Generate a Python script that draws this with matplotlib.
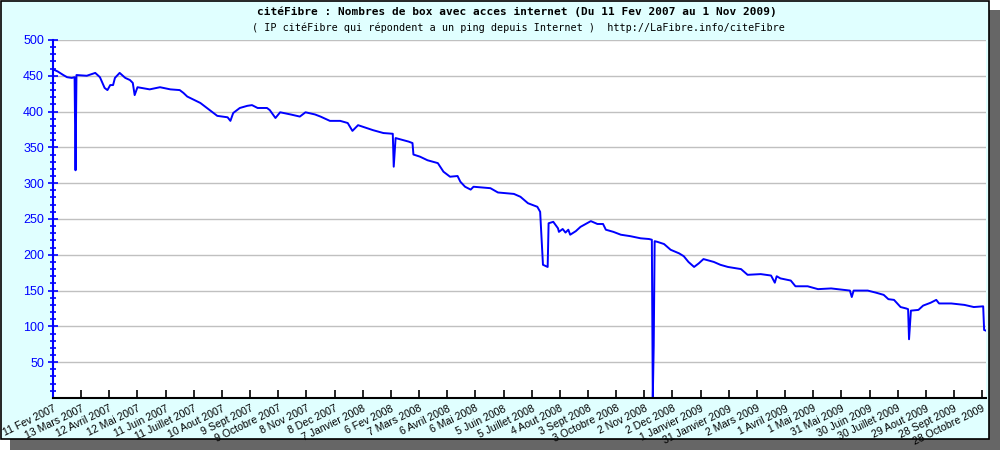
#Importing libraries
import matplotlib
matplotlib.use("Agg")
import matplotlib.pyplot as plt
from matplotlib.patches import Rectangle
import numpy as np

#Days since 11 Fev 2007 and number of box answering the ping
jours = [0, 5, 11, 15, 20, 23, 24, 25, 36, 45, 50, 55, 58, 61, 64, 66, 71, 77, 82, 85,
         87, 90, 103, 114, 125, 135, 139, 143, 157, 164, 167, 175, 186, 189, 192, 199,
         207, 212, 218, 228, 231, 237, 242, 253, 263, 269, 279, 285, 295, 306, 314, 319,
         325, 341, 352, 362, 363, 365, 379, 383, 384, 391, 399, 410, 416, 423, 431, 434,
         439, 445, 448, 466, 474, 491, 498, 506, 516, 519, 522, 527, 528, 533, 538, 539,
         543, 546, 549, 551, 557, 562, 573, 580, 586, 589, 597, 605, 615, 626, 635, 638,
         639, 640, 641, 644, 651, 658, 667, 672, 677, 683, 688, 693, 704, 711, 719, 733,
         740, 754, 765, 769, 771, 775, 786, 791, 804, 815, 829, 849, 851, 853, 868, 877,
         885, 890, 896, 903, 909, 911, 912, 914, 922, 927, 935, 941, 944, 957, 971, 981,
         991, 992, 994]
nb_box = [459, 456, 451, 448, 447, 448, 318, 451, 450, 454, 448, 433, 430, 437, 437, 447,
          454, 447, 444, 440, 423, 434, 431, 434, 431, 430, 426, 421, 412, 405, 402, 394,
          392, 387, 398, 405, 408, 409, 405, 405, 402, 391, 399, 396, 393, 399, 396, 393,
          387, 387, 384, 373, 381, 374, 370, 369, 323, 363, 358, 356, 340, 337, 332, 328,
          316, 309, 310, 302, 295, 291, 295, 293, 287, 285, 281, 272, 267, 260, 186, 183,
          244, 246, 237, 232, 236, 231, 235, 228, 233, 239, 247, 243, 243, 235, 232, 228,
          226, 223, 222, 221, 0, 73, 219, 218, 215, 207, 202, 198, 190, 183, 188, 194, 190,
          186, 183, 180, 172, 173, 171, 161, 170, 167, 164, 156, 156, 152, 153, 150, 141,
          150, 150, 147, 144, 138, 137, 127, 125, 124, 82, 122, 123, 129, 133, 137, 132,
          132, 130, 127, 128, 95, 94]

#Labels of the x axis (one every 30 days)
labels = ["11 Fev 2007", "13 Mars 2007", "12 Avril 2007", "12 Mai 2007", "11 Juin 2007",
          "11 Juillet 2007", "10 Aout 2007", "9 Sept 2007", "9 Octobre 2007", "8 Nov 2007",
          "8 Dec 2007", "7 Janvier 2008", "6 Fev 2008", "7 Mars 2008", "6 Avril 2008",
          "6 Mai 2008", "5 Juin 2008", "5 Juillet 2008", "4 Aout 2008", "3 Sept 2008",
          "3 Octobre 2008", "2 Nov 2008", "2 Dec 2008", "1 Janvier 2009", "31 Janvier 2009",
          "2 Mars 2009", "1 Avril 2009", "1 Mai 2009", "31 Mai 2009", "30 Juin 2009",
          "30 Juillet 2009", "29 Aout 2009", "28 Sept 2009", "28 Octobre 2009"]

titre = "citéFibre : Nombres de box avec acces internet (Du 11 Fev 2007 au 1 Nov 2009)"
sous_titre = "( IP citéFibre qui répondent a un ping depuis Internet )  http://LaFibre.info/citeFibre"

fig = plt.figure(figsize=(10, 4.5), dpi=100)
fig.patch.set_facecolor("white")

#Background box with border and shadow (behind the axes)
fig.patches.append(Rectangle((0.010, 0.0), 0.990, 0.978, transform=fig.transFigure,
                             facecolor="#666666", edgecolor="none", zorder=-3))
fig.patches.append(Rectangle((0.001, 0.024), 0.988, 0.974, transform=fig.transFigure,
                             facecolor="#e0ffff", edgecolor="black", linewidth=1.2, zorder=-2))

ax = fig.add_axes([0.053, 0.1156, 0.933, 0.7956])
ax.set_facecolor("white")

#Plotting the number of box
ax.plot(jours, nb_box, color="#0000ff", linewidth=1.4)

ax.set_xlim(0, 994)
ax.set_ylim(0, 500)

ax.set_yticks(np.arange(50, 501, 50))
ax.set_yticks(np.arange(10, 500, 10), minor=True)
ax.set_xticks(np.arange(0, 991, 30))
ax.set_xticklabels(labels, rotation=26, ha="right", rotation_mode="anchor",
                   fontsize=7.6, family="Liberation Sans")
for t in ax.get_yticklabels():
    t.set_family("Liberation Sans")

ax.yaxis.grid(True, color="#c0c0c0", linewidth=1)
ax.set_axisbelow(True)

for s in ["top", "right"]:
    ax.spines[s].set_visible(False)
ax.spines["left"].set_color("#0000ff")
ax.spines["left"].set_linewidth(1.5)
ax.spines["bottom"].set_color("black")
ax.spines["bottom"].set_linewidth(1.5)

ax.tick_params(axis="y", which="major", direction="inout", length=7, width=1.2,
               color="#0000ff", labelcolor="#0000ff", labelsize=9, pad=3)
ax.tick_params(axis="y", which="minor", direction="inout", length=5, width=1.2, color="#0000ff")
ax.tick_params(axis="x", which="major", direction="in", length=6, width=1.2,
               color="black", labelcolor="black", pad=4)

#Titles
fig.text(0.517, 0.973, titre, ha="center", va="center", family="DejaVu Sans Mono",
         fontsize=8, fontweight="bold")
fig.text(0.518, 0.938, sous_titre, ha="center", va="center", family="DejaVu Sans Mono",
         fontsize=7.3)

fig.savefig("out.png", dpi=100)
